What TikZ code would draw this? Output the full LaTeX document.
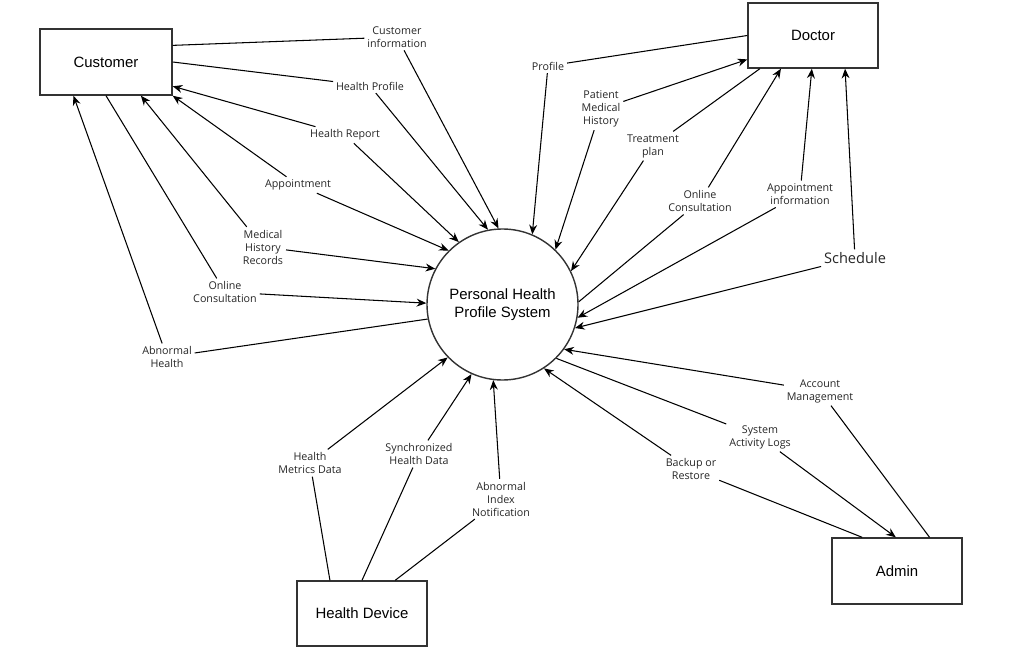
\documentclass[tikz,border=0pt]{standalone}
\usepackage{fontspec}
\setmainfont{Open Sans}
\newfontfamily\boxfont{Liberation Sans}
\usetikzlibrary{arrows.meta}

\begin{document}
\begin{tikzpicture}[
	entity/.style={draw=black!80, line width=0.8pt, minimum width=2.6cm, minimum height=1.3cm, inner sep=0pt, font=\boxfont\fontsize{8.5}{10.2}\selectfont},
	proc/.style={circle, draw=black!80, line width=0.8pt, minimum size=3.02cm, inner sep=0pt, align=center, font=\boxfont\fontsize{8.5}{10.2}\selectfont},
	lbl/.style={inner sep=1.5pt, align=center, text=black!85, font=\fontsize{6.1}{7.4}\selectfont},
	flow/.style={line width=0.6pt, >={Stealth[length=5.5pt,width=4.5pt]}},
]
	\useasboundingbox (0, 0) rectangle (20.5, 13.04);
	% Entities and process:
	\draw node[entity, minimum width=2.64cm, minimum height=1.32cm] (Cust) at (2.12, 11.80) {Customer};
	\draw node[entity] (Doc) at (16.26, 12.33) {Doctor};
	\draw node[entity] (HDev) at (7.24, 0.77) {Health Device};
	\draw node[entity, minimum height=1.32cm] (Adm) at (17.94, 1.62) {Admin};
	\draw node[proc] (PHS) at (10.05, 6.95) {Personal Health\\Profile System};
	% Flow labels:
	\draw node[lbl] (CInfo) at (7.94, 12.30) {Customer\\information};
	\draw node[lbl] (HProf) at (7.40, 11.32) {Health Profile};
	\draw node[lbl] (HRep) at (6.90, 10.34) {Health Report};
	\draw node[lbl] (CAppt) at (5.96, 9.34) {Appointment};
	\draw node[lbl] (MedHist) at (5.26, 8.10) {Medical\\History\\Records};
	\draw node[lbl] (COnline) at (4.50, 7.20) {Online\\Consultation};
	\draw node[lbl] (AbnHealth) at (3.34, 5.90) {Abnormal\\Health};
	\draw node[lbl] (DProf) at (10.96, 11.72) {Profile};
	\draw node[lbl] (PatHist) at (12.02, 10.86) {Patient\\Medical\\History};
	\draw node[lbl] (Treat) at (13.06, 10.12) {Treatment\\plan};
	\draw node[lbl] (DOnline) at (14.00, 9.02) {Online\\Consultation};
	\draw node[lbl] (ApptInfo) at (16.00, 9.16) {Appointment\\information};
	\draw node[lbl, font=\fontsize{8.3}{10}\selectfont] (Sched) at (17.10, 7.88) {Schedule};
	\draw node[lbl] (AccMgmt) at (16.40, 5.22) {Account\\Management};
	\draw node[lbl] (SysLogs) at (15.20, 4.30) {System\\Activity Logs};
	\draw node[lbl] (Backup) at (13.82, 3.66) {Backup or\\Restore};
	\draw node[lbl] (Metrics) at (6.20, 3.78) {Health\\Metrics Data};
	\draw node[lbl] (SyncData) at (8.38, 3.96) {Synchronized\\Health Data};
	\draw node[lbl] (AbnIndex) at (10.02, 3.06) {Abnormal\\Index\\Notification};
	% Customer flows:
	\draw[flow, ->] (Cust.14) -- (CInfo) -- (PHS.93);
	\draw[flow, ->] (Cust.0) -- (HProf) -- (PHS.101);
	\draw[flow, <-] (Cust.-20) -- (HRep);
	\draw[flow, ->] (HRep) -- (PHS.125);
	\draw[flow, <-] (Cust.south east) -- (CAppt);
	\draw[flow, ->] (CAppt) -- (PHS.135);
	\draw[flow, <-] (Cust.-44) -- (MedHist);
	\draw[flow, ->] (MedHist) -- (PHS.152);
	\draw[flow, ->] (Cust.south) -- (COnline) -- (PHS.179);
	\draw[flow, ->] (PHS.191) -- (AbnHealth) -- (Cust.-134);
	% Doctor flows:
	\draw[flow, ->] (Doc.west) -- (DProf) -- (PHS.67);
	\draw[flow, <-] (Doc.-160) -- (PatHist);
	\draw[flow, ->] (PatHist) -- (PHS.46);
	\draw[flow, ->] (Doc.-148) -- (Treat) -- (PHS.26);
	\draw[flow, ->] (PHS.2) -- (DOnline) -- (Doc.-134);
	\draw[flow, <-] (Doc.-92) -- (ApptInfo);
	\draw[flow, ->] (ApptInfo) -- (PHS.-10);
	\draw[flow, <-] (Doc.-46) -- (Sched);
	\draw[flow, ->] (Sched) -- (PHS.-18);
	% Admin flows:
	\draw[flow, ->] (Adm.46) -- (AccMgmt) -- (PHS.-36);
	\draw[flow, ->] (PHS.-45) -- (SysLogs) -- (Adm.92);
	\draw[flow, ->] (Adm.136) -- (Backup) -- (PHS.-57);
	% Health device flows:
	\draw[flow, ->] (HDev.134) -- (Metrics) -- (PHS.-136);
	\draw[flow, ->] (HDev.north) -- (SyncData) -- (PHS.-114);
	\draw[flow, ->] (HDev.45) -- (AbnIndex) -- (PHS.-97);
\end{tikzpicture}
\end{document}
